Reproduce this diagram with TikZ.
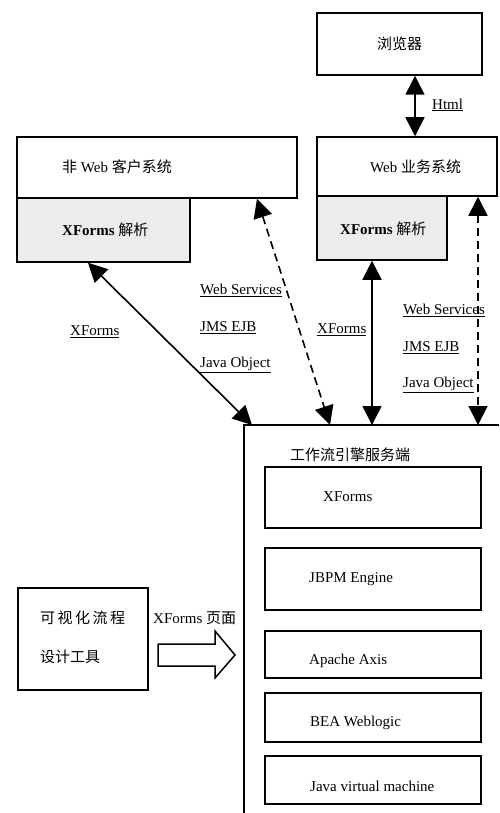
\documentclass[tikz,border=0pt]{standalone}
\usepackage{fontspec}
\setmainfont{Liberation Serif}
\newfontfamily\cjk{Noto Sans CJK SC}
\usepackage{tikz}
\usetikzlibrary{arrows.meta}

\tikzset{
  box/.style={draw, line width=1.5pt, inner sep=0pt},
  parsebox/.style={box, fill=gray!15},
  txt/.style={inner sep=0pt, anchor=west},
  link/.style={line width=1.6pt, {Triangle[length=19pt,width=19pt]}-{Triangle[length=19pt,width=19pt]}},
  soap/.style={link, dash pattern=on 8pt off 5pt},
}

\begin{document}
\begin{tikzpicture}[x=1pt,y=-1pt,font=\fontsize{15}{18}\selectfont]
\useasboundingbox (0,0) rectangle (499,813);
% the top boxes
\node[box, minimum width=165pt, minimum height=62pt] (browser) at (399.5,44) {\cjk 浏览器};
\node[box, minimum width=180pt, minimum height=59pt] (web) at (407,166.5) {};
\node[txt] (web-txt) at (370,167) {Web {\cjk 业务系统}};
\node[parsebox, minimum width=130pt, minimum height=64pt] (webparse) at (382,228) {};
\node[txt] (webparse-txt) at (340,229) {\textbf{XForms} {\cjk 解析}};
\node[box, minimum width=280pt, minimum height=61pt] (nonweb) at (157,167.5) {};
\node[txt] (nonweb-txt) at (62,167) {{\cjk 非} Web {\cjk 客户系统}};
\node[parsebox, minimum width=173pt, minimum height=64pt] (nwparse) at (103.5,230) {};
\node[txt] (nwparse-txt) at (62,230) {\textbf{XForms} {\cjk 解析}};
% the server
\coordinate (srv-nw) at (244,425);
\coordinate (srv-ne) at (499,425);
\coordinate (srv-sw) at (244,813);
\draw[line width=1.5pt] (srv-ne) -- (srv-nw) -- (srv-sw);
\node[txt] (srv-txt) at (290,455) {\cjk 工作流引擎服务端};
\foreach \n/\top/\bot/\tx/\ty/\txt in {xf/467/528/323/497/XForms,
    jbpm/548/610/309/579/JBPM Engine,
    axis/631/678/309/661/Apache Axis,
    bea/693/742/310/723/BEA Weblogic,
    jvm/756/804/310/786/Java virtual machine} {
  \node[box, minimum width=216pt, minimum height={(\bot-\top)*1pt}] (\n) at (373,{(\top+\bot)/2}) {};
  \node[txt] (\n-txt) at (\tx,\ty) {\txt};
}
% the design tool
\node[box, minimum width=130pt, minimum height=102pt] (design) at (83,639) {};
\node[txt] (design-a) at (40,618) {\cjk 可\,视\,化\,流\,程};
\node[txt] (design-b) at (40,657) {\cjk 设计工具};
\node[txt] (page) at (153,618) {XForms {\cjk 页面}};
\draw[line width=1.5pt] (158,644) -- (215,644) -- (215,631) -- (235,655)
  -- (215,678) -- (215,666) -- (158,666) -- cycle;
% the connectors
\coordinate (h) at (415,0);
\coordinate (m) at (372,0);
\coordinate (d) at (478,0);
\coordinate (s1) at (252,425);
\coordinate (s2) at (330,425);
\coordinate (n1) at (88,0);
\coordinate (n2) at (257,0);
\draw[link] (browser.south -| h) -- (web.north -| h);
\draw[link] (webparse.south -| m) -- (srv-nw -| m);
\draw[soap] (web.south -| d) -- (srv-nw -| d);
\draw[link] (nwparse.south -| n1) -- (s1);
\draw[soap] (nonweb.south -| n2) -- (s2);
% the labels
\node[txt] (l-html) at (432,105) {\underline{Html}};
\node[txt] (l-xf1) at (70,332) {\underline{XForms}};
\node[txt] (l-ws1) at (200,290) {\underline{Web Services}};
\node[txt] (l-jms1) at (200,328) {\underline{JMS EJB}};
\node[txt] (l-jo1) at (200,365) {\underline{Java Object}};
\node[txt] (l-xf2) at (317,330) {\underline{XForms}};
\node[txt] (l-ws2) at (403,310) {\underline{Web Services}};
\node[txt] (l-jms2) at (403,348) {\underline{JMS EJB}};
\node[txt] (l-jo2) at (403,385) {\underline{Java Object}};
\end{tikzpicture}
\end{document}
